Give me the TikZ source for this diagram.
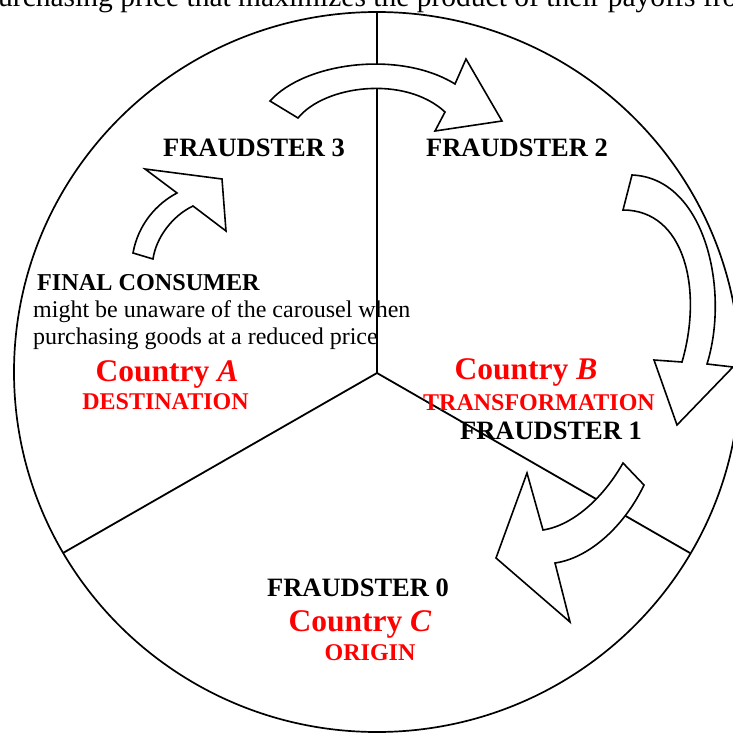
\documentclass[tikz,border=0pt]{standalone}
\usepackage{fontspec}
\setmainfont{Liberation Serif}
\begin{document}
\begin{tikzpicture}[x=1pt,y=-1pt, line join=miter,
  lbl/.style={inner sep=0pt, anchor=base},
  blk/.style={lbl, font=\fontsize{26.5}{30}\selectfont\bfseries},
  ctry/.style={lbl, text=red, font=\fontsize{31.5}{36}\selectfont\bfseries},
  role/.style={lbl, text=red, font=\fontsize{24}{28}\selectfont\bfseries},
  body/.style={inner sep=0pt, anchor=base west, font=\fontsize{24}{28}\selectfont},
  carrow/.style={draw=black, fill=white, line width=1.6pt},
  rim/.style={line width=1.7pt}]
\useasboundingbox (0,0) rectangle (733,733);
\clip (0,0) rectangle (733,733);
% circle and dividers
\coordinate (ctr) at (377,373);
\coordinate (rtop) at (377,11);
\coordinate (rleft) at (63,553);
\coordinate (rright) at (690,553);
\draw[rim] (377,372) ellipse [x radius=363, y radius=360];
\draw[line width=2.6pt] (ctr) -- (rtop);
\draw[line width=1.8pt] (ctr) -- (rleft);
\draw[line width=1.8pt] (ctr) -- (rright);
% curved block arrows
\draw[carrow] (133,253) .. controls (138,225) and (156,204) .. (177,193) -- (145,169) -- (222,179) -- (226,231) -- (193,206) .. controls (172,216) and (156,238) .. (153,259) -- cycle;
\draw[carrow] (270,101) .. controls (305,62) and (400,50) .. (455,84) -- (466,59) -- (502,121) -- (435,131) -- (445,112) .. controls (405,75) and (325,85) .. (298,118) -- cycle;
\draw[carrow] (632,175) .. controls (705,178) and (730,290) .. (707,364) -- (733,367) -- (677,425) -- (654,360) -- (682,362) .. controls (703,290) and (685,210) .. (623,210) -- cycle;
\draw[carrow] (623,463) .. controls (605,495) and (575,525) .. (543,530) -- (527,473) -- (496,558) -- (570,622) -- (555,563) .. controls (590,558) and (625,525) .. (644,485) -- cycle;
% texts
\node[lbl, anchor=base west, font=\fontsize{29.5}{33}\selectfont] (top) at (-2,7) {\llap{p}urchasing price that maximizes the product of their payoffs from};
\node[blk] (f3) at (254,156) {FRAUDSTER 3};
\node[blk] (f2) at (517,156) {FRAUDSTER 2};
\node[blk] (f1) at (551,439) {FRAUDSTER 1};
\node[blk] (f0) at (358,596) {FRAUDSTER 0};
\node[body, font=\fontsize{24.2}{28}\selectfont\bfseries] (fc) at (37,290) {FINAL CONSUMER};
\node[body] (b1) at (33,317) {might be unaware of the carousel when};
\node[body] (b2) at (33,344) {purchasing goods at a reduced price};
\node[ctry] (ca) at (167,381) {Country \textit{A}};
\node[role] (da) at (165.5,409) {DESTINATION};
\node[ctry] (cb) at (526,379) {Country \textit{B}};
\node[role] (tb) at (539,410) {TRANSFORMATION};
\node[ctry] (cc) at (360,631) {Country \textit{C}};
\node[role] (oc) at (370,660) {ORIGIN};
\end{tikzpicture}
\end{document}
